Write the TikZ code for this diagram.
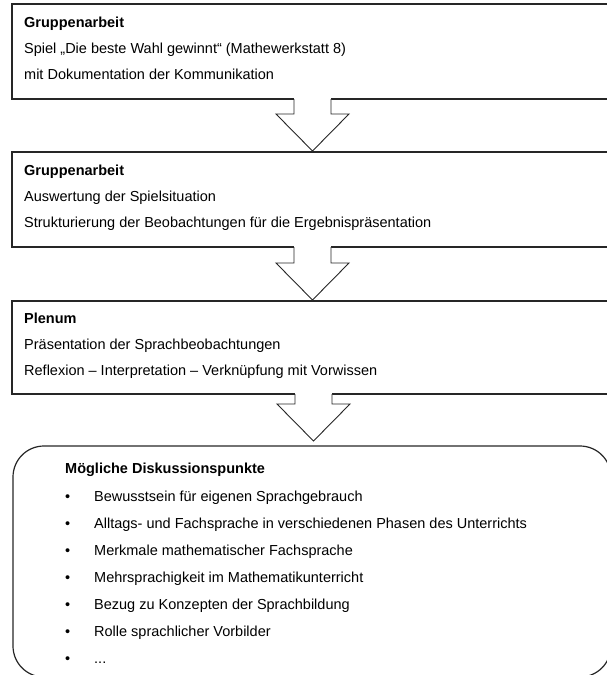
\documentclass[tikz,border=0pt]{standalone}
\usepackage{fontspec}
\setmainfont{Liberation Sans}
\begin{document}
\begin{tikzpicture}[x=1pt,y=-1pt,
  frame/.style={draw=black!85,line width=1.2pt},
  flowarrow/.style={draw=black!85,line width=0.9pt,line join=miter},
  txt/.style={anchor=base west,inner sep=0pt,font=\fontsize{14.5}{17}\selectfont},
  head/.style={txt,font=\fontsize{14.5}{17}\selectfont\bfseries},
  dot/.style={anchor=base west,inner sep=0pt,font=\fontsize{14.5}{17}\selectfont}]
\useasboundingbox (0,0) rectangle (607,675);
\clip (0,0) rectangle (607,675);

% block arrow: centre x, top y (box bottom), tip y
\newcommand\blockarrow[3]{%
  \fill[white] (#1-18.5,#2-1.5) rectangle (#1+18.5,#2+1);
  \fill[white] (#1-18.5,#2) -- (#1-18.5,#3-37) -- (#1-36.5,#3-37) -- (#1,#3)
     -- (#1+36.5,#3-37) -- (#1+18.5,#3-37) -- (#1+18.5,#2) -- cycle;
  \draw[flowarrow] (#1-18.5,#2) -- (#1-18.5,#3-37) -- (#1-36.5,#3-37) -- (#1,#3)
     -- (#1+36.5,#3-37) -- (#1+18.5,#3-37) -- (#1+18.5,#2);}

% the three stages
\draw[frame] (12,4) rectangle (612,99);
\draw[frame] (12,152) rectangle (612,247);
\draw[frame] (12,301) rectangle (612,394);
% discussion box
\draw[frame,rounded corners=31pt] (13,446) rectangle (611,677);

\blockarrow{312.5}{99}{151}
\blockarrow{312.5}{247}{300}
\blockarrow{313.5}{394}{441}

% stage 1
\node[head] (g1) at (24,27.5) {Gruppenarbeit};
\node[txt] (g1a) at (24,53.5) {Spiel „Die beste Wahl gewinnt“ (Mathewerkstatt 8)};
\node[txt] (g1b) at (24,79.5) {mit Dokumentation der Kommunikation};
% stage 2
\node[head] (g2) at (24,175.5) {Gruppenarbeit};
\node[txt] (g2a) at (24,201.5) {Auswertung der Spielsituation};
\node[txt] (g2b) at (24,227.5) {Strukturierung der Beobachtungen für die Ergebnispräsentation};
% stage 3
\node[head] (pl) at (24,323.5) {Plenum};
\node[txt] (pla) at (24,349.5) {Präsentation der Sprachbeobachtungen};
\node[txt] (plb) at (24,375.5) {Reflexion – Interpretation – Verknüpfung mit Vorwissen};
% discussion points
\node[head] (dk) at (65,473.5) {Mögliche Diskussionspunkte};
\foreach \y/\t [count=\i] in {
  501.5/Bewusstsein für eigenen Sprachgebrauch,
  528.5/Alltags- und Fachsprache in verschiedenen Phasen des Unterrichts,
  555.5/Merkmale mathematischer Fachsprache,
  582.5/Mehrsprachigkeit im Mathematikunterricht,
  609.5/Bezug zu Konzepten der Sprachbildung,
  636.5/Rolle sprachlicher Vorbilder}{
  \node[dot] (b\i) at (65,\y) {•};
  \node[txt] (p\i) at (94,\y) {\t};
}
\node[dot] (b7) at (65,663.5) {•};
\node[txt] (p7) at (94,663.5) {.{}.{}.};
\end{tikzpicture}
\end{document}
